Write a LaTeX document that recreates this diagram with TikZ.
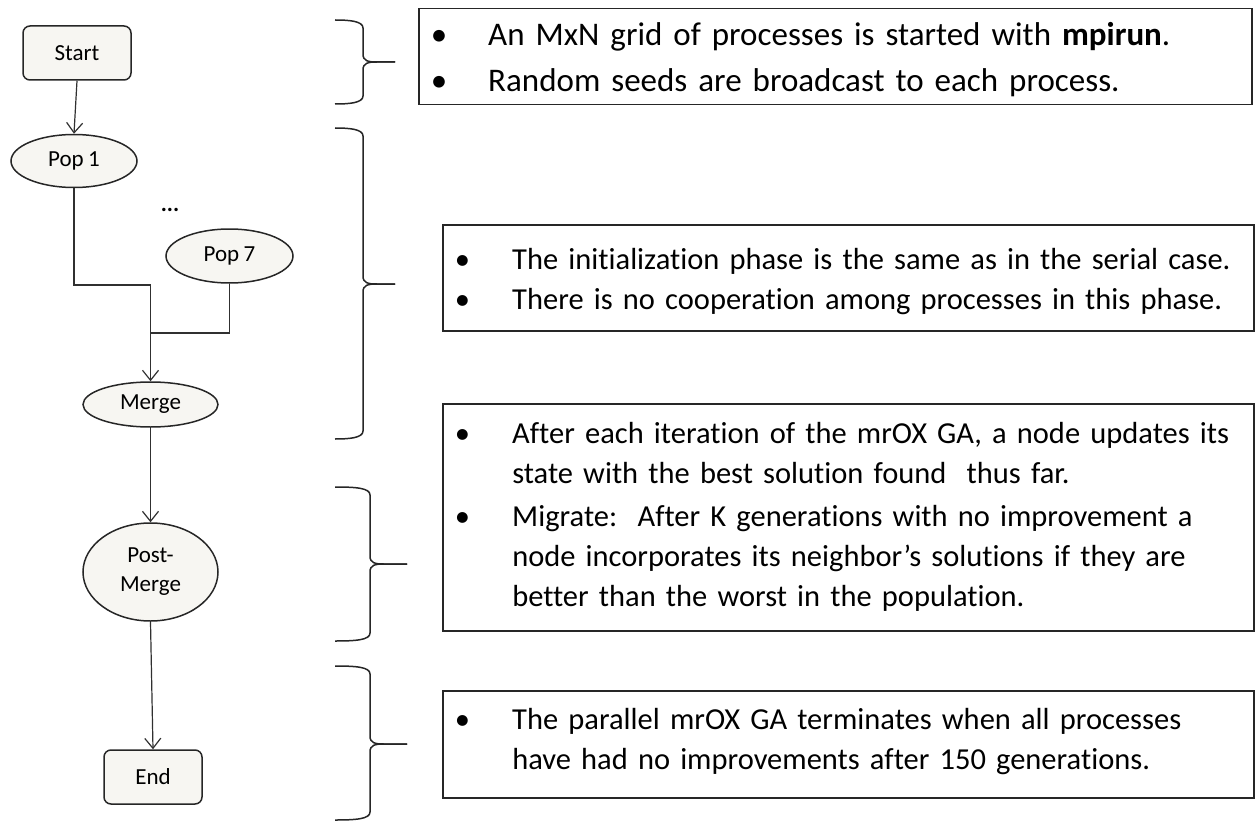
\documentclass[tikz,border=0pt]{standalone}
\usepackage{fontspec}
\setmainfont{Carlito}[Ligatures=NoCommon, WordSpace=0.85]
\usetikzlibrary{shapes.geometric,arrows.meta}

\definecolor{nodefill}{HTML}{F7F6F2}
\definecolor{ink}{HTML}{262626}
\definecolor{wire}{HTML}{303030}

\tikzset{
  flow/.style={draw=ink, line width=1.5pt, fill=nodefill, inner sep=0pt,
    align=center, font=\fontsize{23}{29}\selectfont},
  term/.style={flow, rectangle, rounded corners=7pt},
  proc/.style={flow, ellipse},
  wire/.style={draw=wire, line width=1.2pt, line join=miter},
  link/.style={wire, -{Straight Barb[length=10pt, width=16pt, line width=1.2pt]}},
  note/.style={draw=ink, line width=1.5pt, rectangle, anchor=north west,
    inner xsep=12pt, inner ysep=0pt, align=left,
    font=\fontsize{30.5}{40}\selectfont},
  bignote/.style={note, font=\fontsize{33}{41}\selectfont},
  bracket/.style={draw=ink, line width=1.5pt},
}

% curly brace: left end x, stem x, tip x, top y, tip y, bottom y
\newcommand\phasebrace[6]{%
  \draw[bracket] (#1,#4) .. controls (#2-14,#4) and (#2,#4+1) .. (#2,#4+8)
    -- (#2,#5-8) .. controls (#2,#5-1) and (#2+5,#5) .. (#2+14,#5) -- (#3,#5);
  \draw[bracket] (#3,#5) -- (#2+14,#5) .. controls (#2+5,#5) and (#2,#5+1) .. (#2,#5+8)
    -- (#2,#6-8) .. controls (#2,#6-1) and (#2-14,#6) .. (#1,#6);
}

% bullet list; optional argument raises the lines inside the box
\newcommand\bulletrows[2][0pt]{%
  \raisebox{#1}[\height][\depth]{%
    \begin{tabular}{@{}p{57.5pt}@{}l@{}}#2\end{tabular}}}

\begin{document}
\begin{tikzpicture}[x=1pt, y=-1pt]
  \useasboundingbox (0,0) rectangle (1255,821);

  % flowchart
  \node[term, minimum width=108pt, minimum height=54pt] (start) at (77,53) {Start};
  \node[proc, minimum width=126pt, minimum height=53pt] (pop1) at (74,161) {Pop 1};
  \node[inner sep=0pt, font=\fontsize{23}{29}\selectfont\bfseries] (dots) at (170,210) {...};
  \node[proc, minimum width=127pt, minimum height=54pt] (pop7) at (229.5,256) {Pop 7};
  \node[proc, minimum width=135pt, minimum height=45pt] (merge) at (150.5,404.5) {Merge};
  \node[proc, minimum width=135pt, minimum height=98pt] (post) at (150.5,572) {Post-\\Merge};
  \node[term, minimum width=98pt, minimum height=54pt] (end) at (153,777) {End};

  \coordinate (j1) at (150.5,285);
  \coordinate (j2) at (150.5,333);

  \draw[link] (start.south) -- (pop1.north);
  \draw[wire] (pop1.south) |- (j1);
  \draw[wire] (pop7.south) |- (j2);
  \draw[link] (j1) -- (merge.north);
  \draw[link] (merge.south) -- (post.north);
  \draw[link] (post.south) -- (end.north);

  % braces
  \phasebrace{335}{363}{395}{20}{62}{104}
  \phasebrace{335}{363}{395}{128}{284}{439}
  \phasebrace{335}{370}{407}{487}{564}{641}
  \phasebrace{335}{370}{407}{666}{744}{820}

  % notes
  \node[bignote, text width=809pt, minimum height=96pt] (n1) at (418,8) {\bulletrows[-4pt]{%
    \textbullet & An MxN grid of processes is started with \textbf{mpirun}.\\[5pt]
    \textbullet & Random seeds are broadcast to each process.}};
  \node[note, text width=787pt, minimum height=106pt] (n2) at (442,224) {\bulletrows[-4pt]{%
    \textbullet & The initialization phase is the same as in the serial case.\\
    \textbullet & There is no cooperation among processes in this phase.}};
  \node[note, text width=787pt, minimum height=227pt] (n3) at (442,403) {\bulletrows{%
    \textbullet & After each iteration of the mrOX GA, a node updates its\\
                & state with the best solution found\ \ thus far.\\[3pt]
    \textbullet & Migrate:\ \ After K generations with no improvement a\\
                & node incorporates its neighbor’s solutions if they are\\
                & better than the worst in the population.}};
  \node[note, text width=787pt, minimum height=107pt] (n4) at (442,690) {\bulletrows[3pt]{%
    \textbullet & The parallel mrOX GA terminates when all processes\\
                & have had no improvements after 150 generations.}};
\end{tikzpicture}
\end{document}
